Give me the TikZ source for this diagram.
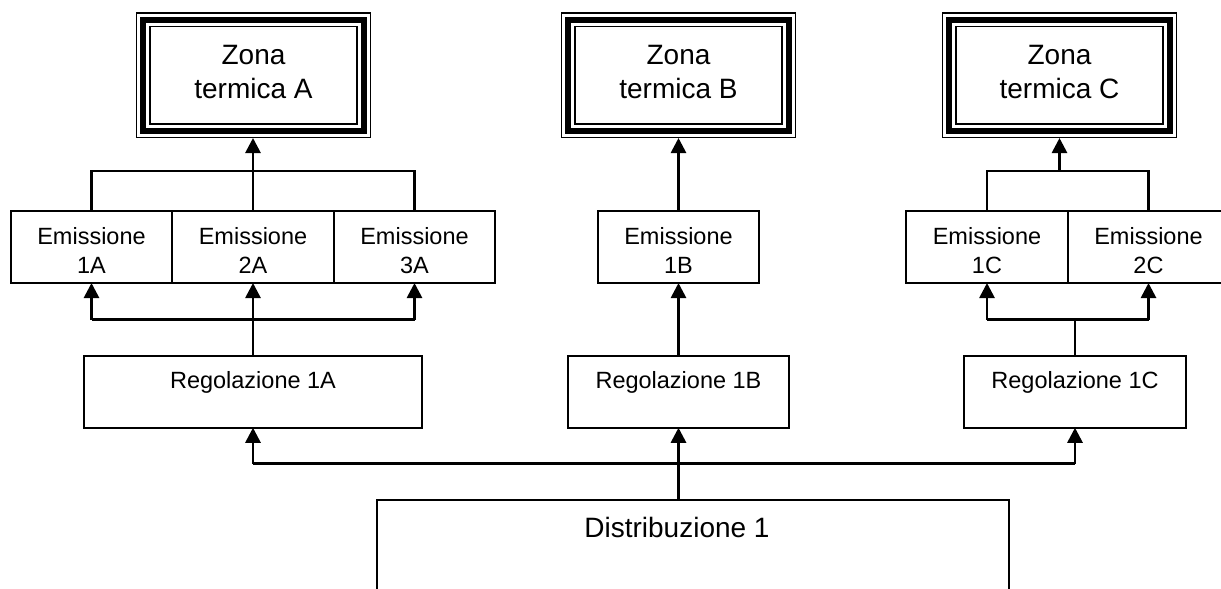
\documentclass[tikz,border=0pt]{standalone}
\usepackage{fontspec}
\setmainfont{Liberation Sans}
\usetikzlibrary{arrows.meta,positioning}

\tikzset{every picture/.style={line width=0.9pt}}

\begin{document}
\begin{tikzpicture}[x=0.5pt, y=-0.5pt,
                    line join=miter,
                    box/.style={draw, outer sep=0pt, inner sep=0pt, align=center},
                    zona/.style={box, minimum width=110.25pt, minimum height=55.5pt,
                                 line width=7.5pt, outer sep=3.75pt,
                                 postaction={draw=white, line width=6pt},
                                 postaction={draw=black, line width=3pt},
                                 font=\fontsize{14}{17.3}\selectfont, text depth=3.3pt},
                    emis/.style={box, minimum width=80.75pt, minimum height=36pt,
                                 font=\fontsize{11.75}{14.5}\selectfont,
                                 text height=26.3pt, text depth=0pt},
                    regol/.style={box, minimum height=36pt,
                                  font=\fontsize{11.75}{14.5}\selectfont,
                                  text height=8pt, text depth=11.45pt},
                    link/.style={line width=1.35pt},
                    feed/.style={link, -{Triangle[width=7.5pt,length=7.5pt]}}]

  \useasboundingbox (0,0) rectangle (1221,589);
  \clip (0,0) rectangle (1221,589);

  % zone termiche
  \node[zona] (zA) at (253.5,75) {Zona\\termica A};
  \node[zona] (zB) at (678.5,75) {Zona\\termica B};
  \node[zona] (zC) at (1059.5,75) {Zona\\termica C};

  % emissione
  \node[emis] (e1A) at (91.5,247) {Emissione\\1A};
  \node[emis, right=0pt of e1A] (e2A) {Emissione\\2A};
  \node[emis, right=0pt of e2A] (e3A) {Emissione\\3A};
  \node[emis] (e1B) at (678.5,247) {Emissione\\1B};
  \node[emis] (e1C) at (987,247) {Emissione\\1C};
  \node[emis, right=0pt of e1C] (e2C) {Emissione\\2C};

  % regolazione
  \node[regol, minimum width=169pt] (r1A) at (253,391.75) {Regolazione 1A};
  \node[regol, minimum width=110.5pt] (r1B) at (678.5,391.75) {Regolazione 1B};
  \node[regol, minimum width=111pt] (r1C) at (1075,391.75) {Regolazione 1C};

  % distribuzione
  \node[box, minimum width=316pt, minimum height=70pt] (dist) at (693,570) {};
  \node[font=\fontsize{14}{17}\selectfont, anchor=base, inner sep=0pt] (distname)
    at (677,537.7) {Distribuzione 1};

  % bus
  \coordinate (busD) at (0,463.5);
  \coordinate (busE) at (0,319.5);
  \coordinate (busZ) at (0,171);

  % distribuzione -> regolazione
  \draw[link] (r1A.south |- busD) -- (r1C.south |- busD);
  \draw[feed] (dist.north -| r1B) -- (r1B.south);
  \foreach \r in {r1A,r1C}
    \draw[feed] (\r.south |- busD) -- (\r.south);

  % regolazione -> emissione
  \draw[link] (r1A.north) -- (r1A.north |- busE);
  \draw[link] (e1A.south |- busE) -- (e3A.south |- busE);
  \foreach \e in {e1A,e2A,e3A}
    \draw[feed] (\e.south |- busE) -- (\e.south);
  \draw[feed] (r1B.north) -- (e1B.south);
  \draw[link] (r1C.north) -- (r1C.north |- busE);
  \draw[link] (e1C.south |- busE) -- (e2C.south |- busE);
  \foreach \e in {e1C,e2C}
    \draw[feed] (\e.south |- busE) -- (\e.south);

  % emissione -> zone
  \draw[link] (e1A.north) |- (e3A.north |- busZ) -- (e3A.north);
  \draw[feed] (e2A.north) -- (e2A.north |- zA.south);
  \draw[feed] (e1B.north) -- (zB.south);
  \draw[link] (e1C.north) |- (e2C.north |- busZ) -- (e2C.north);
  \draw[feed] (zC.south |- busZ) -- (zC.south);

\end{tikzpicture}
\end{document}
